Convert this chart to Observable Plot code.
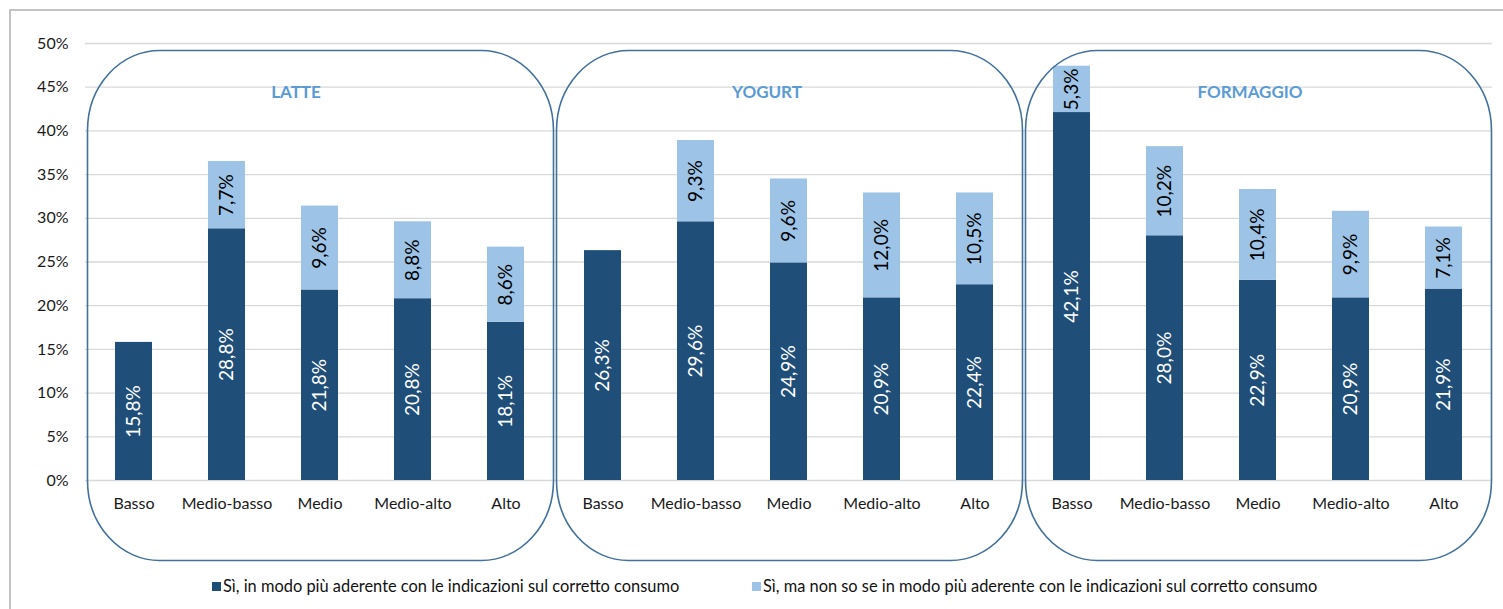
<!DOCTYPE html>
<html><head><meta charset="utf-8">
<script src="https://cdn.jsdelivr.net/npm/d3@7"></script>
<script src="https://cdn.jsdelivr.net/npm/@observablehq/plot@0.6"></script>
<style>
body{margin:0;background:#fff;font-family:Lato,"Open Sans",sans-serif;}
#wrap{position:relative;width:1503px;height:609px;overflow:hidden;}
#chart{position:absolute;left:0;top:0;}
#border{position:absolute;left:9px;top:9px;width:1600px;height:700px;border-left:2px solid #c3c3c3;border-top:2px solid #c3c3c3;pointer-events:none;}
#legend{position:absolute;top:577px;left:0;width:1503px;height:20px;font-size:16.4px;color:#111;}
.item{position:absolute;top:0;display:flex;align-items:center;white-space:nowrap;line-height:18px;}
.sw{width:9px;height:9px;margin-right:2px;}
</style></head><body>
<div id="wrap"><div id="chart"></div><div id="legend"></div><div id="border"></div></div>
<script>
const groups = ["LATTE", "YOGURT", "FORMAGGIO"];
const levels = ["Basso", "Medio-basso", "Medio", "Medio-alto", "Alto"];
const seriesNames = [
  "Sì, in modo più aderente con le indicazioni sul corretto consumo",
  "Sì, ma non so se in modo più aderente con le indicazioni sul corretto consumo"
];
const seriesColors = ["#1f4e79", "#9dc3e6"];
// values (%) per group, in level order
const latteSi     = [15.8, 28.8, 21.8, 20.8, 18.1];
const latteNonSo  = [null, 7.7, 9.6, 8.8, 8.6];
const yogurtSi    = [26.3, 29.6, 24.9, 20.9, 22.4];
const yogurtNonSo = [null, 9.3, 9.6, 12.0, 10.5];
const formSi      = [42.1, 28.0, 22.9, 20.9, 21.9];
const formNonSo   = [5.3, 10.2, 10.4, 9.9, 7.1];
const yTicks = [0, 5, 10, 15, 20, 25, 30, 35, 40, 45, 50];

const siByGroup = [latteSi, yogurtSi, formSi];
const nonSoByGroup = [latteNonSo, yogurtNonSo, formNonSo];
const rows = [];
groups.forEach((g, gi) => {
  levels.forEach((l, li) => {
    [siByGroup[gi][li], nonSoByGroup[gi][li]].forEach((v, si) => {
      if (v != null) rows.push({group: g, level: l, series: seriesNames[si], value: v});
    });
  });
});
const fmt = v => v.toFixed(1).replace(".", ",") + "%";
const titleDx = [-24, -22, -8];

const plot = Plot.plot({
  width: 1503, height: 575,
  marginLeft: 85, marginRight: 11, marginTop: 43, marginBottom: 95,
  style: {fontFamily: "Lato, sans-serif", fontSize: "16px", color: "#1a1a1a", background: "transparent", overflow: "visible"},
  fx: {domain: groups, padding: 0, axis: null, label: null},
  x: {domain: levels, paddingInner: 0.6, paddingOuter: 0.3, label: null, axis: null},
  y: {domain: [0, 50], label: null, axis: null},
  color: {domain: seriesNames, range: seriesColors},
  marks: [
    Plot.gridY(yTicks, {stroke: "#d9d9d9", strokeOpacity: 1, strokeWidth: 1.3}),
    Plot.axisY(yTicks, {tickSize: 0, tickPadding: 17, tickFormat: d => d + "%", label: null}),
    Plot.axisX({tickSize: 0, tickPadding: 17, label: null}),
    Plot.barY(rows, {fx: "group", x: "level", y: "value", fill: "series", z: "series"}),
    Plot.text(rows, Plot.stackY({
      fx: "group", x: "level", y: "value", z: "series",
      text: d => fmt(d.value), rotate: -90, fontSize: 19,
      fill: d => d.series === seriesNames[0] ? "white" : "black"
    })),
    ...groups.map((g, i) => Plot.text([g], {
      fx: d => d, x: () => "Medio", frameAnchor: "top", dy: 42, dx: titleDx[i],
      text: d => d, fill: "#5b9bd5", fontWeight: "bold", fontSize: 17
    })),
    Plot.frame({stroke: "#41719c", strokeWidth: 1.6, rx: 72, ry: 80, insetTop: 7, insetBottom: -80, insetLeft: 2, insetRight: 1})
  ]
});
document.getElementById("chart").appendChild(plot);

const legend = document.getElementById("legend");
const legendLeft = [212, 752];
seriesNames.forEach((name, i) => {
  const item = document.createElement("div");
  item.className = "item";
  item.style.left = legendLeft[i] + "px";
  const sw = document.createElement("span");
  sw.className = "sw";
  sw.style.background = seriesColors[i];
  const t = document.createElement("span");
  t.textContent = name;
  item.appendChild(sw); item.appendChild(t);
  legend.appendChild(item);
});
</script>
</body></html>
